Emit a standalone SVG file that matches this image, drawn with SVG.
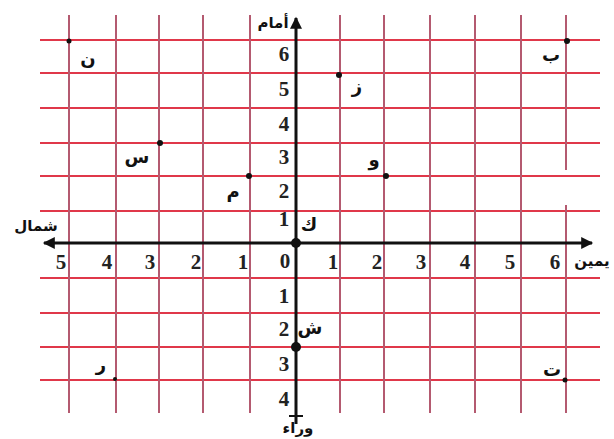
<svg xmlns="http://www.w3.org/2000/svg" width="614" height="439" viewBox="0 0 614 439">
<style>
.h{stroke:#e0384a;stroke-width:2}
.v{stroke:#b45a70;stroke-width:2}
.ax{stroke:#111;stroke-width:3;fill:none}
.n{font-family:"Liberation Serif",serif;font-weight:bold;font-size:21px;fill:#222;text-anchor:middle}
.a{font-family:"DejaVu Sans",sans-serif;font-weight:bold;font-size:18px;fill:#111;text-anchor:middle}
.w{font-family:"DejaVu Sans",sans-serif;font-weight:bold;font-size:15px;fill:#111;text-anchor:middle}
.p{fill:#111}
</style>
<defs>
<marker id="ar" viewBox="0 0 10 10" refX="9" refY="5" markerWidth="5" markerHeight="4" orient="auto" markerUnits="strokeWidth">
<path d="M0,0 L10,5 L0,10 z" fill="#111"/>
</marker>
</defs>
<rect width="614" height="439" fill="#fff"/>
<g id="grid">
<line class="h" x1="40" y1="40" x2="600" y2="40"/>
<line class="h" x1="40" y1="73" x2="600" y2="73"/>
<line class="h" x1="40" y1="108" x2="600" y2="108"/>
<line class="h" x1="40" y1="143" x2="600" y2="143"/>
<line class="h" x1="40" y1="176" x2="600" y2="176"/>
<line class="h" x1="40" y1="211" x2="600" y2="211"/>
<line class="h" x1="40" y1="278" x2="600" y2="278"/>
<line class="h" x1="40" y1="313" x2="600" y2="313"/>
<line class="h" x1="40" y1="347" x2="600" y2="347"/>
<line class="h" x1="40" y1="380" x2="600" y2="380"/>
<line class="v" x1="69" y1="15" x2="69" y2="413"/>
<line class="v" x1="116" y1="15" x2="116" y2="413"/>
<line class="v" x1="159" y1="15" x2="159" y2="413"/>
<line class="v" x1="203" y1="15" x2="203" y2="413"/>
<line class="v" x1="250" y1="15" x2="250" y2="413"/>
<line class="v" x1="340" y1="15" x2="340" y2="413"/>
<line class="v" x1="384" y1="15" x2="384" y2="413"/>
<line class="v" x1="430" y1="15" x2="430" y2="413"/>
<line class="v" x1="475" y1="15" x2="475" y2="413"/>
<line class="v" x1="521" y1="15" x2="521" y2="413"/>
<line class="v" x1="566" y1="15" x2="566" y2="170"/>
<line class="v" x1="566" y1="205" x2="566" y2="413"/>
</g>
<g id="connectors">
<line class="ax" x1="296" y1="243" x2="44" y2="243" marker-end="url(#ar)"/>
<line class="ax" x1="296" y1="243" x2="592" y2="243" marker-end="url(#ar)"/>
<line class="ax" x1="296" y1="243" x2="296" y2="18" marker-end="url(#ar)"/>
<line class="ax" x1="296" y1="243" x2="296" y2="424"/>
<line stroke="#111" stroke-width="2" x1="289" y1="416" x2="303" y2="416"/>
</g>
<g id="axis-labels">
<text class="w" x="273" y="28">أمام</text>
<text class="w" x="298" y="433">وراء</text>
<text class="w" x="36" y="231">شمال</text>
<text class="w" x="592" y="266">يمين</text>
</g>
<g id="y-numbers">
<text class="n" x="284" y="61">6</text>
<text class="n" x="284" y="96">5</text>
<text class="n" x="284" y="131">4</text>
<text class="n" x="284" y="164">3</text>
<text class="n" x="284" y="198">2</text>
<text class="n" x="284" y="226">1</text>
<text class="n" x="285" y="268">0</text>
<text class="n" x="284" y="303">1</text>
<text class="n" x="284" y="336">2</text>
<text class="n" x="284" y="371">3</text>
<text class="n" x="284" y="406">4</text>
</g>
<g id="x-numbers">
<text class="n" x="61" y="269">5</text>
<text class="n" x="107" y="269">4</text>
<text class="n" x="150" y="269">3</text>
<text class="n" x="196" y="269">2</text>
<text class="n" x="243" y="269">1</text>
<text class="n" x="333" y="269">1</text>
<text class="n" x="377" y="269">2</text>
<text class="n" x="421" y="269">3</text>
<text class="n" x="465" y="269">4</text>
<text class="n" x="510" y="269">5</text>
<text class="n" x="555" y="269">6</text>
</g>
<g id="pt-n"><circle class="p" cx="69" cy="41" r="2.5"/><text class="a" x="88" y="65">ن</text></g>
<g id="pt-b"><circle class="p" cx="567" cy="41" r="3"/><text class="a" x="551" y="61">ب</text></g>
<g id="pt-z"><circle class="p" cx="339" cy="75" r="3"/><text class="a" x="357" y="93">ز</text></g>
<g id="pt-s"><circle class="p" cx="160" cy="143" r="3"/><text class="a" x="137" y="163">س</text></g>
<g id="pt-w"><circle class="p" cx="386" cy="176" r="3"/><text class="a" x="374" y="166">و</text></g>
<g id="pt-m"><circle class="p" cx="249" cy="176" r="3"/><text class="a" x="233" y="198">م</text></g>
<g id="pt-k"><circle class="p" cx="296" cy="243" r="5"/><text class="a" x="309" y="231">ك</text></g>
<g id="pt-sh"><circle class="p" cx="296" cy="347" r="5"/><text class="a" x="310" y="334">ش</text></g>
<g id="pt-r"><circle class="p" cx="115" cy="379" r="2"/><text class="a" x="101" y="371">ر</text></g>
<g id="pt-t"><circle class="p" cx="565" cy="380" r="2.5"/><text class="a" x="552" y="376">ت</text></g>
</svg>
